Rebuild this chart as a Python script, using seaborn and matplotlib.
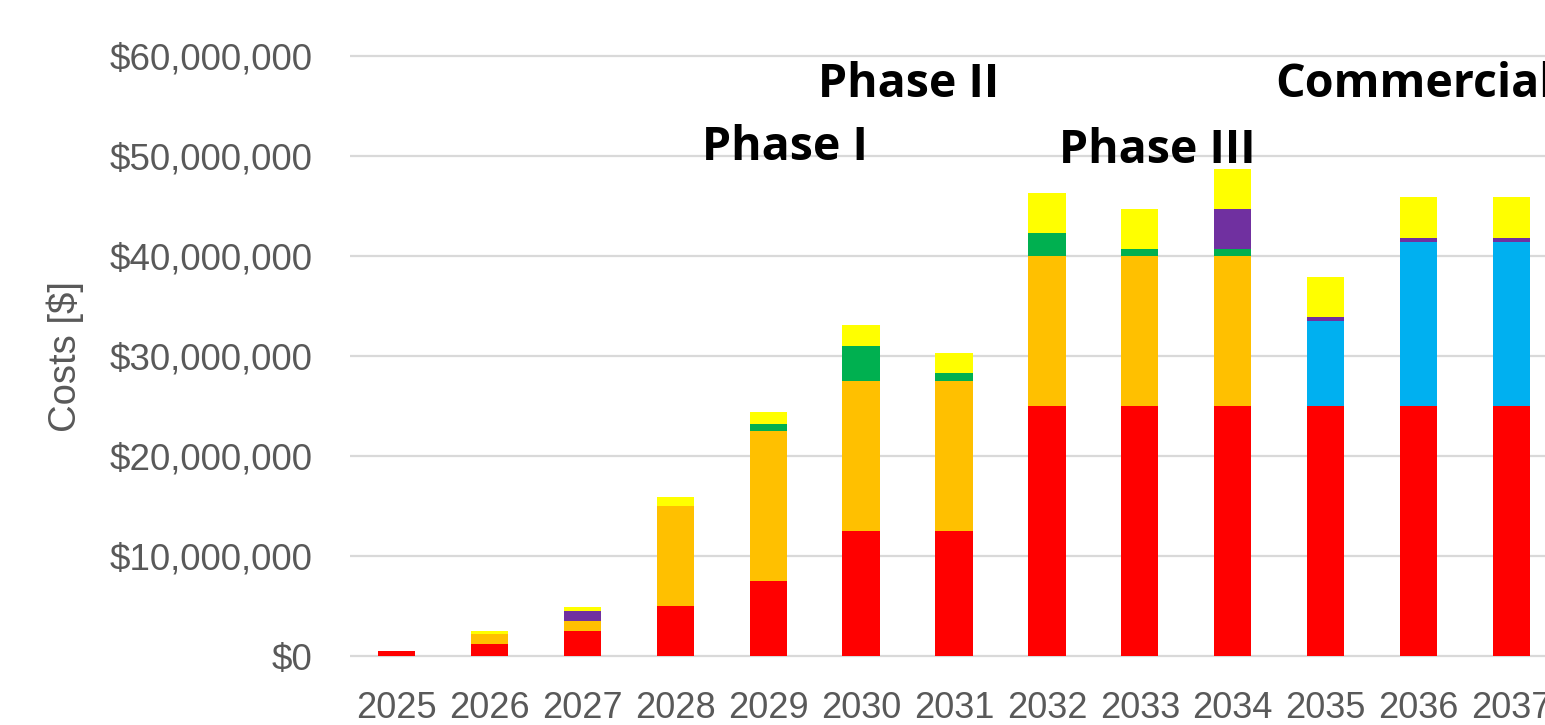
import numpy as np
import pandas as pd
import matplotlib
matplotlib.use("Agg")
import matplotlib.pyplot as plt
from matplotlib.ticker import FuncFormatter
import seaborn as sns

# cost components per year, in millions of dollars (bottom to top of the stack)
years = [str(y) for y in range(2025, 2038)]
red = [0.5, 1.25, 2.5, 5.0, 7.5, 12.5, 12.5, 25.0, 25.0, 25.0, 25.0, 25.0, 25.0]
orange = [0.0, 1.0, 1.0, 10.0, 15.0, 15.0, 15.0, 15.0, 15.0, 15.0, 0.0, 0.0, 0.0]
blue = [0.0, 0.0, 0.0, 0.0, 0.0, 0.0, 0.0, 0.0, 0.0, 0.0, 8.5, 16.4, 16.4]
green = [0.0, 0.0, 0.0, 0.0, 0.7, 3.5, 0.8, 2.3, 0.7, 0.7, 0.0, 0.0, 0.0]
purple = [0.0, 0.0, 1.0, 0.0, 0.0, 0.0, 0.0, 0.0, 0.0, 4.0, 0.4, 0.4, 0.4]
yellow = [0.0, 0.3, 0.4, 0.9, 1.2, 2.1, 2.0, 4.0, 4.0, 4.0, 4.0, 4.1, 4.1]

series = [("red", red, "#FF0000"), ("orange", orange, "#FFC000"),
          ("blue", blue, "#00B0F0"), ("green", green, "#00B050"),
          ("purple", purple, "#7030A0"), ("yellow", yellow, "#FFFF00")]

phase_labels = ["Phase I", "Phase II", "Phase III", "Commercial"]
phase_x = [3.29, 4.54, 7.13, 9.46]
phase_y = [49.6e6, 55.9e6, 49.3e6, 55.9e6]

df = pd.DataFrame({"year": years})
running = np.zeros(len(years))
for name, vals, _ in series:
    running = running + np.array(vals)
    df[name] = running * 1e6

sns.set_style("white")
plt.rcParams["font.family"] = ["Liberation Sans", "DejaVu Sans"]

fig = plt.figure(figsize=(15.45, 7.25), dpi=100)
ax = fig.add_axes([350 / 1545, 67 / 725, 1208 / 1545, 612 / 725])

# draw cumulative totals from the top layer down so each layer covers the one above
for name, _, color in reversed(series):
    sns.barplot(data=df, x="year", y=name, order=years, color=color,
                width=0.4, linewidth=0, saturation=1, ax=ax, zorder=3)

ax.set_xlim(-0.5, 12.5)
ax.set_ylim(-0.2e6, 61e6)
ax.set_yticks(np.arange(0, 60e6 + 1, 10e6))
ax.yaxis.set_major_formatter(FuncFormatter(lambda v, p: f"${v:,.0f}"))
ax.grid(axis="y", color="#d9d9d9", linewidth=1.6, zorder=0)
ax.set_axisbelow(True)
for s in ax.spines.values():
    s.set_visible(False)
ax.tick_params(axis="y", length=0, pad=27, labelsize=26.5, labelcolor="#595959")
ax.tick_params(axis="x", length=0, pad=24, labelsize=26, labelcolor="#595959")
ax.set_xlabel("")
ax.set_ylabel("")
fig.text(65 / 1545, 1 - 357 / 725, "Costs [$]", rotation=90, ha="center",
         va="center", fontsize=27.5, color="#595959")

for label, x, y in zip(phase_labels, phase_x, phase_y):
    ax.text(x, y, label, ha="left", va="baseline", fontsize=33.5,
            fontweight="bold", family=["Open Sans", "DejaVu Sans"],
            color="black", zorder=5)

fig.savefig("out.png", dpi=100)
